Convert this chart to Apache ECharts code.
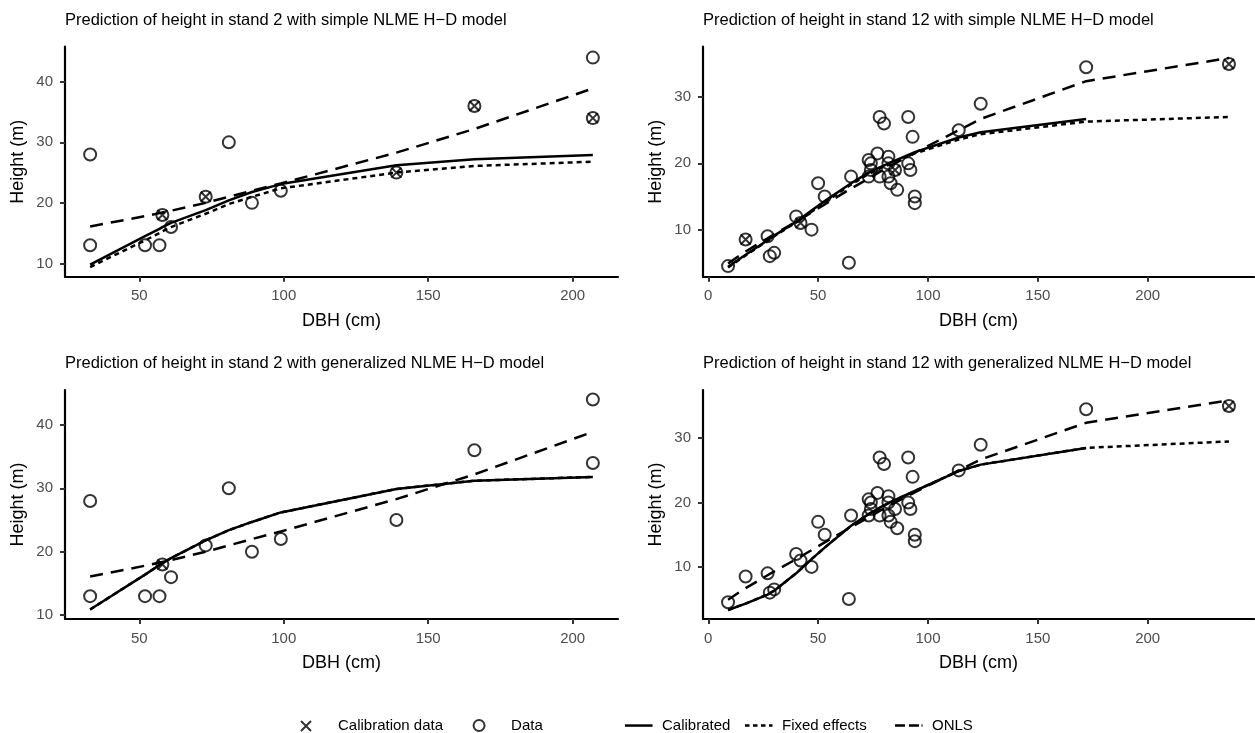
<!DOCTYPE html>
<html><head><meta charset="utf-8">
<script src="https://cdn.jsdelivr.net/npm/echarts@6/dist/echarts.min.js"></script>
<style>html,body{margin:0;padding:0;background:#fff}#c{width:1255px;height:733px}</style>
</head><body><div id="c"></div>
<script>
// ---------- data ----------
const panelTitles = [
  'Prediction of height in stand 2 with simple NLME H\u2212D model',
  'Prediction of height in stand 12 with simple NLME H\u2212D model',
  'Prediction of height in stand 2 with generalized NLME H\u2212D model',
  'Prediction of height in stand 12 with generalized NLME H\u2212D model'
];
const stand2XTicks = [50, 100, 150, 200];
const stand2YTicks = [10, 20, 30, 40];
const stand12XTicks = [0, 50, 100, 150, 200];
const stand12YTicks = [10, 20, 30];

const stand2DBH    = [33, 33, 52, 57, 58, 61, 73, 81, 89, 99, 139, 166, 207, 207];
const stand2Height = [28, 13, 13, 13, 18, 16, 21, 30, 20, 22, 25, 36, 44, 34];
const stand2SimpleCalDBH    = [58, 73, 139, 166, 207];
const stand2SimpleCalHeight = [18, 21, 25, 36, 34];
const stand2GenCalDBH    = [58];
const stand2GenCalHeight = [18];
const stand2CurveDBH        = [33, 52, 57, 58, 61, 73, 81, 89, 99, 139, 166, 207];
const stand2SimpleCalibrated = [9.8, 14.5, 15.7, 16.0, 16.7, 18.8, 20.4, 21.8, 23.1, 26.2, 27.2, 27.9];
const stand2SimpleFixed      = [9.4, 13.8, 15.0, 15.3, 16.0, 18.2, 19.8, 21.0, 22.4, 25.0, 26.1, 26.8];
const stand2ONLS             = [16.1, 17.8, 18.3, 18.4, 18.7, 20.0, 21.0, 22.0, 23.2, 28.3, 32.2, 38.9];
const stand2GenCalibrated    = [10.9, 16.4, 17.9, 18.2, 19.0, 21.8, 23.4, 24.7, 26.2, 29.9, 31.2, 31.8];
const stand2GenFixed         = [10.9, 16.4, 17.9, 18.2, 19.0, 21.8, 23.4, 24.7, 26.2, 29.9, 31.2, 31.8];

const stand12DBH    = [9, 17, 27, 28, 30, 40, 42, 47, 50, 53, 64, 65, 73, 74, 74, 73, 77, 78, 78, 80, 82, 82, 82, 83, 85, 86, 91, 91, 92, 93, 94, 94, 114, 124, 172, 237];
const stand12Height = [4.5, 8.5, 9, 6, 6.5, 12, 11, 10, 17, 15, 5, 18, 20.5, 20, 19, 18, 21.5, 18, 27, 26, 21, 20, 18, 17, 19, 16, 27, 20, 19, 24, 15, 14, 25, 29, 34.5, 35];
const stand12SimpleCalDBH    = [17, 42, 85, 237];
const stand12SimpleCalHeight = [8.5, 11, 19, 35];
const stand12GenCalDBH    = [237];
const stand12GenCalHeight = [35];
const stand12CurveDBH         = [9, 17, 27, 30, 40, 47, 53, 65, 73, 78, 85, 94, 114, 124, 172, 237];
const stand12SimpleCalibrated = [4.4, 6.2, 8.4, 9.1, 11.2, 12.9, 14.3, 17.0, 18.6, 19.4, 20.4, 21.7, 23.9, 24.7, 26.7];
const stand12SimpleFixed      = [4.3, 6.1, 8.3, 9.0, 11.1, 12.7, 14.1, 16.8, 18.4, 19.2, 20.2, 21.5, 23.6, 24.4, 26.3, 27.0];
const stand12ONLS             = [4.9, 6.7, 8.7, 9.3, 11.2, 12.6, 13.8, 16.2, 17.7, 18.7, 20.0, 21.6, 25.0, 26.7, 32.4, 35.9];
const stand12GenCalibrated    = [3.3, 4.3, 5.7, 6.3, 9.0, 11.2, 13.0, 16.4, 18.2, 19.2, 20.4, 21.8, 24.9, 25.9, 28.5];
const stand12GenFixed         = [3.3, 4.3, 5.7, 6.3, 9.0, 11.2, 13.0, 16.4, 18.2, 19.2, 20.4, 21.8, 24.9, 25.9, 28.5, 29.5];

// ---------- helpers ----------
const zip = (xs, ys) => ys.map((y, i) => [xs[i], y]);
const FONT = 'Liberation Sans';
const X_PATH = 'path://M1,1L11,11M11,1L1,11';
const LINE_W = 2.5;

const panels = [
  {grid: {left: 65, top: 46.7, width: 553, height: 230}, title: {left: 65, top: 12},
   x: [24.3, 215.7], y: [7.8, 45.8], xt: stand2XTicks, yt: stand2YTicks,
   dbh: stand2DBH, h: stand2Height, cx: stand2SimpleCalDBH, cy: stand2SimpleCalHeight,
   lx: stand2CurveDBH, cal: stand2SimpleCalibrated, fix: stand2SimpleFixed, onls: stand2ONLS},
  {grid: {left: 703, top: 46.7, width: 551, height: 230}, title: {left: 703, top: 12},
   x: [-2.4, 248.4], y: [2.9, 37.6], xt: stand12XTicks, yt: stand12YTicks,
   dbh: stand12DBH, h: stand12Height, cx: stand12SimpleCalDBH, cy: stand12SimpleCalHeight,
   lx: stand12CurveDBH, cal: stand12SimpleCalibrated, fix: stand12SimpleFixed, onls: stand12ONLS},
  {grid: {left: 65, top: 390, width: 553, height: 229}, title: {left: 65, top: 355},
   x: [24.3, 215.7], y: [9.4, 45.5], xt: stand2XTicks, yt: stand2YTicks,
   dbh: stand2DBH, h: stand2Height, cx: stand2GenCalDBH, cy: stand2GenCalHeight,
   lx: stand2CurveDBH, cal: stand2GenCalibrated, fix: stand2GenFixed, onls: stand2ONLS},
  {grid: {left: 703, top: 390, width: 551, height: 229}, title: {left: 703, top: 355},
   x: [-2.4, 248.4], y: [1.9, 37.5], xt: stand12XTicks, yt: stand12YTicks,
   dbh: stand12DBH, h: stand12Height, cx: stand12GenCalDBH, cy: stand12GenCalHeight,
   lx: stand12CurveDBH, cal: stand12GenCalibrated, fix: stand12GenFixed, onls: stand12ONLS}
];

const axisCommon = (ticks) => ({
  type: 'value',
  axisLine: {show: true, onZero: false, lineStyle: {color: '#000', width: 2.2}},
  axisTick: {show: true, length: 5, customValues: ticks, lineStyle: {color: '#333', width: 2}},
  axisLabel: {customValues: ticks, color: '#4D4D4D', fontSize: 15, fontFamily: FONT},
  splitLine: {show: false},
  nameTextStyle: {color: '#000', fontSize: 18, fontFamily: FONT}
});

const legendText = {color: '#000', fontSize: 15, fontFamily: FONT};
const lineLegend = (name, icon, left) => ({
  data: [{name: name, icon: icon}], left: left, top: 713, itemWidth: 32, itemHeight: 12,
  itemStyle: {color: '#000', borderWidth: 0}, textStyle: legendText, selectedMode: false
});

const option = {
  animation: false,
  backgroundColor: '#fff',
  title: panels.map((p, i) => ({
    text: panelTitles[i], left: p.title.left, top: p.title.top, padding: 0,
    textStyle: {color: '#000', fontSize: 16.5, fontWeight: 'normal', fontFamily: FONT}
  })),
  grid: panels.map(p => Object.assign({}, p.grid)),
  xAxis: panels.map((p, i) => Object.assign(axisCommon(p.xt), {
    gridIndex: i, min: p.x[0], max: p.x[1], name: 'DBH (cm)', nameLocation: 'middle', nameGap: 35,
    axisLabel: Object.assign(axisCommon(p.xt).axisLabel, {margin: 12})
  })),
  yAxis: panels.map((p, i) => Object.assign(axisCommon(p.yt), {
    gridIndex: i, min: p.y[0], max: p.y[1], name: 'Height (m)', nameLocation: 'middle', nameGap: 38,
    axisLabel: Object.assign(axisCommon(p.yt).axisLabel, {margin: 12})
  })),
  legend: [
    {data: [{name: 'Calibration data', icon: 'path://M0,0M36,13M4,2L14,12M14,2L4,12'},
            {name: 'Data', icon: 'path://M0,0M36,13M14.5,6.5A5.5,5.5,0,1,1,3.5,6.5A5.5,5.5,0,1,1,14.5,6.5Z'}],
     left: 291, top: 713, itemWidth: 36, itemHeight: 13, itemGap: 26,
     itemStyle: {borderWidth: 2, borderColor: '#000', color: 'rgba(0,0,0,0)'},
     textStyle: legendText, selectedMode: false},
    lineLegend('Calibrated', 'path://M0,0M32,12M0,4.8H27.5V7.3H0Z', 620),
    lineLegend('Fixed effects', 'path://M0,0M32,12M0,4.8H4.5V7.3H0ZM8,4.8H12.5V7.3H8ZM16,4.8H20.5V7.3H16ZM24,4.8H27.5V7.3H24Z', 740),
    lineLegend('ONLS', 'path://M0,0M32,12M0,4.8H10V7.3H0ZM14,4.8H24V7.3H14ZM26.5,4.8H27.5V7.3H26.5Z', 890)
  ],
  series: []
};

panels.forEach((p, i) => {
  const base = {xAxisIndex: i, yAxisIndex: i, silent: true, emphasis: {disabled: true}};
  option.series.push(Object.assign({}, base, {
    type: 'scatter', name: 'Data', data: zip(p.dbh, p.h), symbol: 'circle', symbolSize: 12,
    itemStyle: {color: 'rgba(0,0,0,0)', borderColor: '#000', borderWidth: 2}
  }));
  option.series.push(Object.assign({}, base, {
    type: 'scatter', name: 'Calibration data', data: zip(p.cx, p.cy), symbol: X_PATH, symbolSize: 10,
    itemStyle: {color: 'rgba(0,0,0,0)', borderColor: '#000', borderWidth: 2}
  }));
  const lineBase = Object.assign({}, base, {type: 'line', showSymbol: false, symbol: 'none', z: 3});
  option.series.push(Object.assign({}, lineBase, {
    name: 'Calibrated', data: zip(p.lx, p.cal),
    lineStyle: {color: '#000', width: LINE_W, type: 'solid'}
  }));
  option.series.push(Object.assign({}, lineBase, {
    name: 'Fixed effects', data: zip(p.lx, p.fix),
    lineStyle: {color: '#000', width: LINE_W, type: [5, 4]}
  }));
  option.series.push(Object.assign({}, lineBase, {
    name: 'ONLS', data: zip(p.lx, p.onls),
    lineStyle: {color: '#000', width: LINE_W, type: [13, 8]}
  }));
});

const chart = echarts.init(document.getElementById('c'), null, {renderer: 'canvas'});
chart.setOption(option);
</script></body></html>
